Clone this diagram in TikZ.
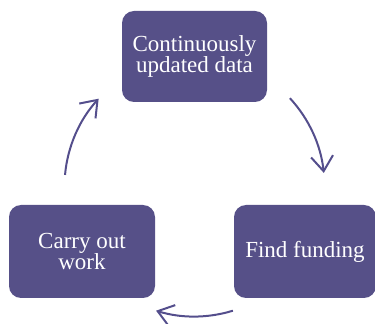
\documentclass[tikz,border=0pt]{standalone}
\usepackage{fontspec}
\setmainfont{Liberation Serif}
\usetikzlibrary{arrows.meta}
\definecolor{boxpurple}{RGB}{86,80,136}
\definecolor{arrowpurple}{RGB}{84,78,140}
\tikzset{
  stepbox/.style={draw=none, fill=boxpurple, rounded corners=12pt, text=white,
    align=center, font=\fontsize{23}{21.5}\selectfont, inner sep=0pt},
  cyclearrow/.style={draw=arrowpurple, line width=2pt,
    -{Straight Barb[length=15pt,width=22pt,line width=2pt]}}
}
\begin{document}
\begin{tikzpicture}[x=1pt,y=1pt]
\useasboundingbox (0,0) rectangle (375,324);
\node[stepbox, minimum width=145pt, minimum height=91pt] (data) at (194.5,267.5) {Continuously\\updated data};
\node[stepbox, minimum width=146pt, minimum height=93pt] (work) at (82,72.5) {Carry out\\work};
\node[stepbox, minimum width=142pt, minimum height=93pt] (fund) at (305,72.5) {Find funding};
\coordinate (c) at (194.5,137.5);
\draw[cyclearrow] (c) ++(42.8:130) arc[start angle=42.8, end angle=6, radius=130];
\draw[cyclearrow] (c) ++(-72.8:130) arc[start angle=-72.8, end angle=-107.2, radius=130];
\draw[cyclearrow] (c) ++(174.9:130) arc[start angle=174.9, end angle=137.5, radius=130];
\end{tikzpicture}
\end{document}
